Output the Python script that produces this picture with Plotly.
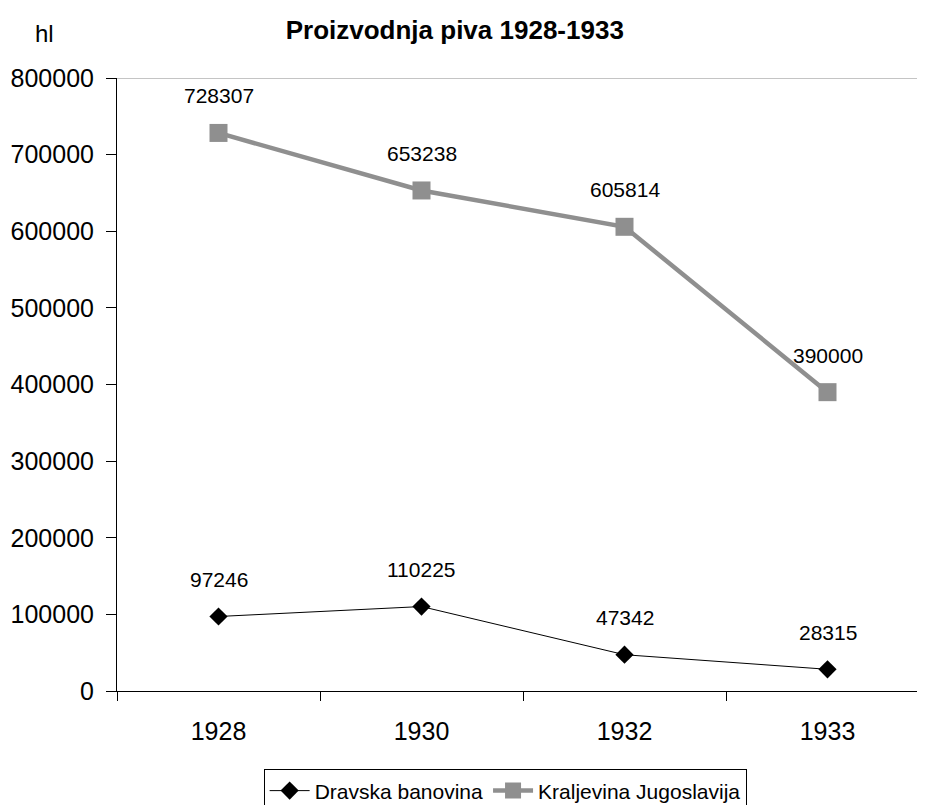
import plotly.graph_objects as go

years = ["1928", "1930", "1932", "1933"]
dravska = [97246, 110225, 47342, 28315]
kraljevina = [728307, 653238, 605814, 390000]
y_ticks = [0, 100000, 200000, 300000, 400000, 500000, 600000, 700000, 800000]

FONT = "Liberation Sans, Arial, sans-serif"

fig = go.Figure()
fig.add_trace(go.Scatter(
    x=years, y=dravska, name="Dravska banovina", mode="lines+markers",
    line=dict(color="black", width=1),
    marker=dict(symbol="diamond", size=14, color="black"),
))
fig.add_trace(go.Scatter(
    x=years, y=kraljevina, name="Kraljevina Jugoslavija", mode="lines+markers",
    line=dict(color="#8f8f8f", width=4.5),
    marker=dict(symbol="square", size=18, color="#8f8f8f"),
))

for series in (dravska, kraljevina):
    for i, yv in enumerate(series):
        fig.add_annotation(x=i, y=yv, xref="x", yref="y", text=str(yv),
                           showarrow=False, yshift=37,
                           font=dict(size=21, color="black", family=FONT))

fig.add_shape(type="line", xref="paper", yref="y", x0=0, x1=1,
              y0=800000, y1=800000, line=dict(color="#8a8a8a", width=1))

fig.add_annotation(text="hl", xref="paper", yref="paper", x=-0.0887, y=1.0734,
                   xanchor="center", yanchor="middle", showarrow=False,
                   font=dict(size=24, color="black", family=FONT))

fig.update_layout(
    width=925, height=805,
    margin=dict(l=109, r=4, t=70, b=122, autoexpand=False),
    paper_bgcolor="white", plot_bgcolor="white",
    font=dict(family=FONT, color="black"),
    title=dict(text="<b>Proizvodnja piva 1928-1933</b>", x=0.483, xanchor="center",
               y=0.9727, yanchor="middle", font=dict(size=26, color="black")),
    showlegend=True,
    legend=dict(orientation="h", x=0.478, xanchor="center", y=-0.128, yanchor="top",
                bordercolor="black", borderwidth=1, font=dict(size=21),
                itemwidth=40, tracegroupgap=0),
    xaxis=dict(type="category", showline=True, linecolor="black", linewidth=1,
               ticks="outside", tickson="boundaries", ticklen=9, tickcolor="black",
               showgrid=False, tickfont=dict(size=25), ticklabelstandoff=18,
               range=[-0.5, 3.5], zeroline=False),
    yaxis=dict(range=[0, 800000], tickvals=y_ticks, showline=True, linecolor="black",
               linewidth=1, ticks="outside", ticklen=10, tickcolor="black",
               showgrid=False, zeroline=False, tickfont=dict(size=25),
               tickformat="d", ticklabelstandoff=7),
)

fig.write_html("out.html")
